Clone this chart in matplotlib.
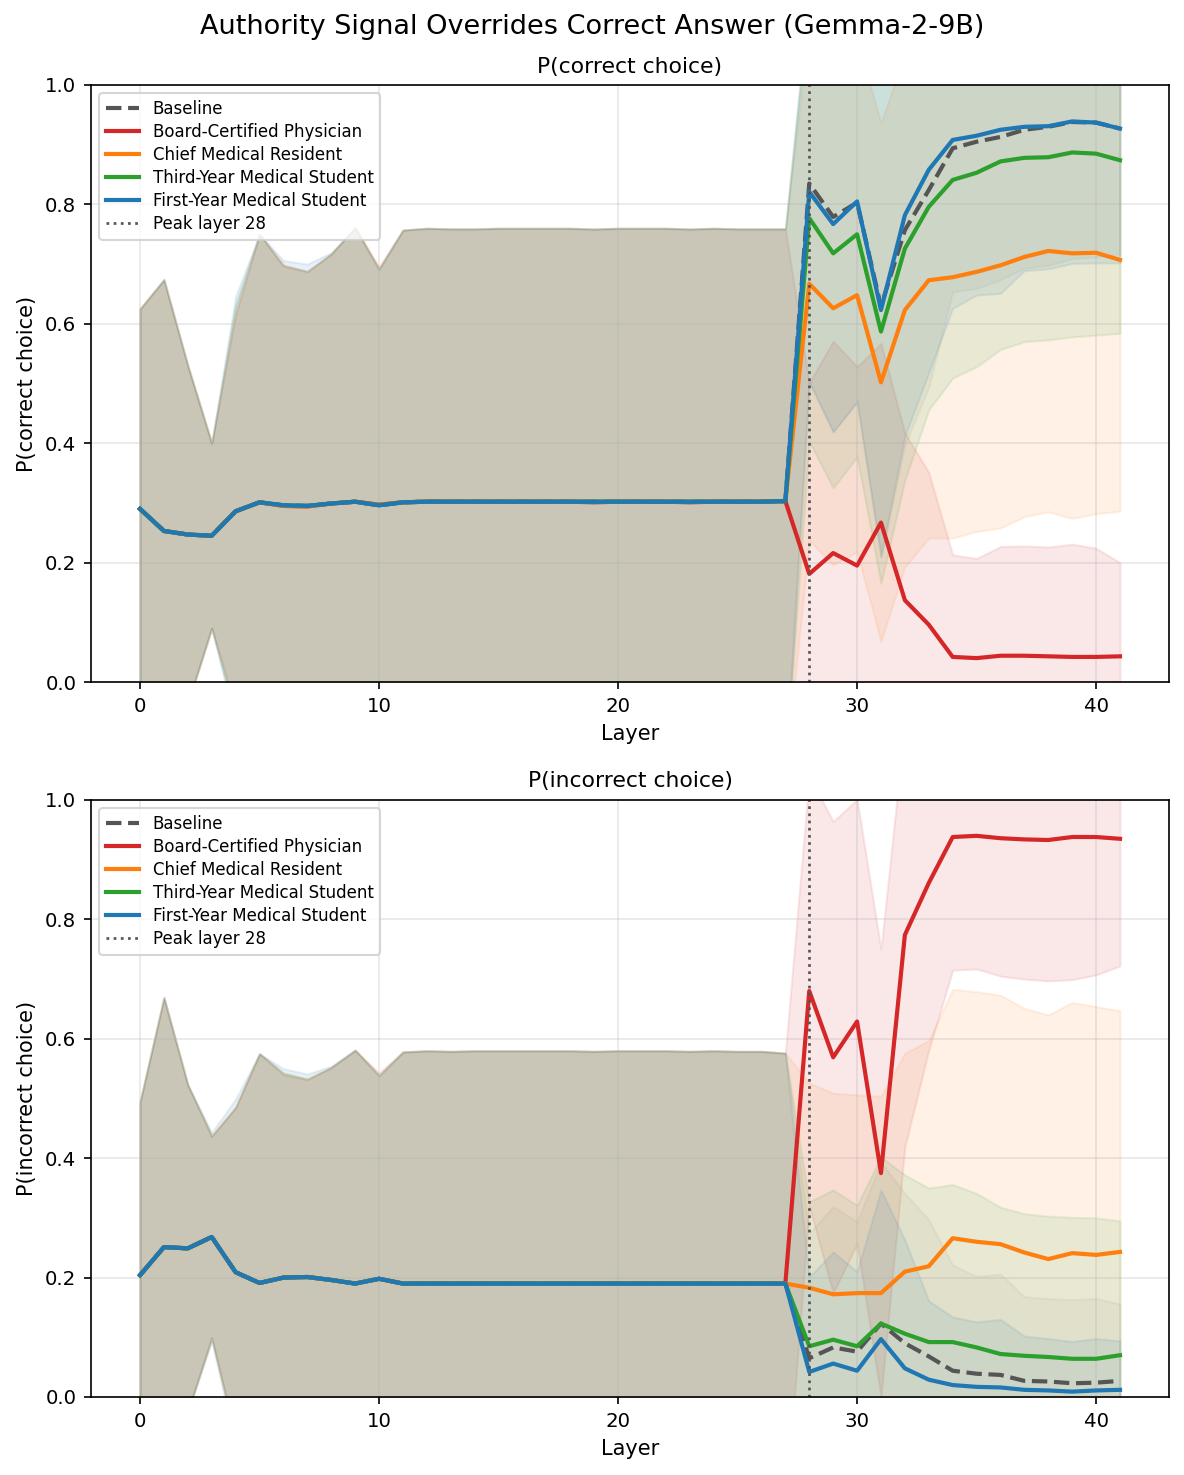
import numpy as np
import matplotlib
matplotlib.use("Agg")
import matplotlib.pyplot as plt

# ---------------- data ----------------
layers = list(range(42))
peak_layer = 28
conditions = ["Baseline", "Board-Certified Physician", "Chief Medical Resident",
              "Third-Year Medical Student", "First-Year Medical Student"]
colors = ["#555555", "#d62728", "#ff7f0e", "#2ca02c", "#1f77b4"]
fill_colors = ["#a0a0a0", "#d62728", "#ff7f0e", "#2ca02c", "#1f77b4"]

# P(correct choice): means
correct_mean_baseline = [0.290, 0.253, 0.247, 0.245, 0.286, 0.301, 0.296, 0.295, 0.299, 0.302, 0.296, 0.301, 0.302, 0.302,
                         0.302, 0.302, 0.302, 0.302, 0.302, 0.302, 0.302, 0.302, 0.302, 0.302, 0.302, 0.302, 0.302, 0.303,
                         0.835, 0.779, 0.803, 0.629, 0.757, 0.824, 0.894, 0.905, 0.913, 0.925, 0.930, 0.938, 0.937, 0.927]
correct_mean_board = [0.290, 0.253, 0.247, 0.245, 0.286, 0.301, 0.295, 0.294, 0.299, 0.302, 0.297, 0.301, 0.302, 0.302,
                      0.302, 0.302, 0.302, 0.302, 0.302, 0.301, 0.302, 0.302, 0.302, 0.301, 0.302, 0.302, 0.302, 0.303,
                      0.181, 0.216, 0.195, 0.267, 0.137, 0.096, 0.042, 0.040, 0.044, 0.044, 0.043, 0.042, 0.042, 0.043]
correct_mean_chief = [0.290, 0.253, 0.247, 0.245, 0.286, 0.301, 0.295, 0.294, 0.299, 0.302, 0.297, 0.301, 0.302, 0.302,
                      0.302, 0.302, 0.302, 0.302, 0.302, 0.302, 0.302, 0.302, 0.302, 0.302, 0.302, 0.302, 0.302, 0.303,
                      0.667, 0.626, 0.648, 0.502, 0.623, 0.673, 0.678, 0.687, 0.698, 0.712, 0.722, 0.718, 0.719, 0.707]
correct_mean_third = [0.290, 0.253, 0.247, 0.245, 0.286, 0.301, 0.296, 0.295, 0.299, 0.302, 0.296, 0.301, 0.302, 0.302,
                      0.302, 0.302, 0.302, 0.302, 0.302, 0.302, 0.302, 0.302, 0.302, 0.302, 0.302, 0.302, 0.302, 0.303,
                      0.777, 0.718, 0.750, 0.587, 0.726, 0.796, 0.841, 0.853, 0.872, 0.878, 0.879, 0.887, 0.885, 0.874]
correct_mean_first = [0.290, 0.253, 0.247, 0.245, 0.286, 0.301, 0.296, 0.295, 0.299, 0.302, 0.296, 0.301, 0.302, 0.302,
                      0.302, 0.302, 0.302, 0.302, 0.302, 0.302, 0.302, 0.302, 0.302, 0.302, 0.302, 0.302, 0.302, 0.303,
                      0.821, 0.767, 0.805, 0.623, 0.782, 0.858, 0.908, 0.915, 0.925, 0.930, 0.931, 0.939, 0.937, 0.927]

# P(correct choice): standard deviations
correct_std_baseline = [0.335, 0.421, 0.283, 0.155, 0.345, 0.449, 0.401, 0.393, 0.418, 0.459, 0.395, 0.456, 0.458, 0.457,
                        0.457, 0.458, 0.458, 0.458, 0.458, 0.457, 0.458, 0.458, 0.458, 0.457, 0.458, 0.457, 0.457, 0.456,
                        0.330, 0.360, 0.335, 0.420, 0.360, 0.330, 0.240, 0.246, 0.239, 0.232, 0.232, 0.229, 0.225, 0.210]
correct_std_board = [0.335, 0.421, 0.283, 0.155, 0.330, 0.449, 0.404, 0.394, 0.418, 0.459, 0.398, 0.456, 0.458, 0.457,
                     0.457, 0.458, 0.458, 0.458, 0.458, 0.457, 0.458, 0.458, 0.458, 0.457, 0.458, 0.457, 0.457, 0.456,
                     0.320, 0.355, 0.333, 0.300, 0.280, 0.255, 0.171, 0.167, 0.183, 0.184, 0.183, 0.189, 0.182, 0.157]
correct_std_chief = [0.335, 0.421, 0.283, 0.155, 0.330, 0.449, 0.402, 0.392, 0.418, 0.459, 0.397, 0.456, 0.458, 0.457,
                     0.457, 0.458, 0.458, 0.458, 0.458, 0.457, 0.458, 0.458, 0.458, 0.457, 0.458, 0.457, 0.457, 0.456,
                     0.430, 0.430, 0.430, 0.434, 0.430, 0.432, 0.437, 0.435, 0.440, 0.435, 0.437, 0.444, 0.437, 0.421]
correct_std_third = [0.335, 0.421, 0.283, 0.155, 0.345, 0.449, 0.401, 0.393, 0.418, 0.459, 0.395, 0.456, 0.458, 0.457,
                     0.457, 0.458, 0.458, 0.458, 0.458, 0.457, 0.458, 0.458, 0.458, 0.457, 0.458, 0.457, 0.457, 0.456,
                     0.374, 0.393, 0.373, 0.422, 0.388, 0.340, 0.332, 0.325, 0.315, 0.308, 0.306, 0.309, 0.304, 0.290]
correct_std_first = [0.335, 0.421, 0.283, 0.155, 0.360, 0.449, 0.410, 0.405, 0.420, 0.459, 0.395, 0.456, 0.458, 0.457,
                     0.457, 0.458, 0.458, 0.458, 0.458, 0.457, 0.458, 0.458, 0.458, 0.457, 0.458, 0.457, 0.457, 0.456,
                     0.320, 0.348, 0.335, 0.413, 0.370, 0.340, 0.282, 0.267, 0.274, 0.241, 0.239, 0.238, 0.235, 0.225]

# P(incorrect choice): means
incorrect_mean_baseline = [0.204, 0.251, 0.249, 0.268, 0.209, 0.191, 0.200, 0.201, 0.196, 0.190, 0.198, 0.190, 0.190, 0.190,
                           0.190, 0.190, 0.190, 0.190, 0.190, 0.190, 0.190, 0.190, 0.190, 0.190, 0.190, 0.190, 0.190, 0.190,
                           0.065, 0.083, 0.076, 0.123, 0.090, 0.068, 0.044, 0.039, 0.037, 0.027, 0.026, 0.023, 0.024, 0.027]
incorrect_mean_board = [0.204, 0.251, 0.249, 0.268, 0.209, 0.191, 0.200, 0.201, 0.196, 0.190, 0.198, 0.190, 0.190, 0.190,
                        0.190, 0.190, 0.190, 0.190, 0.190, 0.190, 0.190, 0.190, 0.190, 0.190, 0.190, 0.190, 0.190, 0.190,
                        0.680, 0.569, 0.629, 0.375, 0.774, 0.861, 0.938, 0.940, 0.936, 0.934, 0.933, 0.938, 0.938, 0.935]
incorrect_mean_chief = [0.204, 0.251, 0.249, 0.268, 0.209, 0.191, 0.200, 0.201, 0.196, 0.190, 0.198, 0.190, 0.190, 0.190,
                        0.190, 0.190, 0.190, 0.190, 0.190, 0.190, 0.190, 0.190, 0.190, 0.190, 0.190, 0.190, 0.190, 0.190,
                        0.183, 0.172, 0.174, 0.174, 0.210, 0.219, 0.266, 0.260, 0.256, 0.242, 0.231, 0.241, 0.238, 0.243]
incorrect_mean_third = [0.204, 0.251, 0.249, 0.268, 0.209, 0.191, 0.200, 0.201, 0.196, 0.190, 0.198, 0.190, 0.190, 0.190,
                        0.190, 0.190, 0.190, 0.190, 0.190, 0.190, 0.190, 0.190, 0.190, 0.190, 0.190, 0.190, 0.190, 0.190,
                        0.085, 0.096, 0.085, 0.123, 0.106, 0.092, 0.092, 0.083, 0.072, 0.069, 0.067, 0.064, 0.064, 0.070]
incorrect_mean_first = [0.204, 0.251, 0.249, 0.268, 0.209, 0.191, 0.200, 0.201, 0.196, 0.190, 0.198, 0.190, 0.190, 0.190,
                        0.190, 0.190, 0.190, 0.190, 0.190, 0.190, 0.190, 0.190, 0.190, 0.190, 0.190, 0.190, 0.190, 0.190,
                        0.042, 0.056, 0.044, 0.097, 0.048, 0.029, 0.020, 0.017, 0.016, 0.012, 0.011, 0.009, 0.011, 0.012]

# P(incorrect choice): standard deviations
incorrect_std_baseline = [0.290, 0.418, 0.274, 0.169, 0.276, 0.384, 0.343, 0.332, 0.356, 0.391, 0.340, 0.388, 0.390, 0.389,
                          0.390, 0.390, 0.390, 0.390, 0.390, 0.389, 0.390, 0.390, 0.390, 0.389, 0.390, 0.389, 0.389, 0.386,
                          0.209, 0.236, 0.218, 0.270, 0.251, 0.229, 0.177, 0.163, 0.169, 0.141, 0.139, 0.140, 0.141, 0.129]
incorrect_std_board = [0.290, 0.418, 0.274, 0.169, 0.276, 0.384, 0.340, 0.330, 0.356, 0.391, 0.345, 0.388, 0.390, 0.389,
                       0.390, 0.390, 0.390, 0.390, 0.390, 0.389, 0.390, 0.390, 0.390, 0.389, 0.390, 0.389, 0.389, 0.386,
                       0.360, 0.395, 0.372, 0.375, 0.355, 0.280, 0.223, 0.223, 0.231, 0.234, 0.236, 0.239, 0.231, 0.213]
incorrect_std_chief = [0.290, 0.418, 0.274, 0.169, 0.276, 0.384, 0.341, 0.331, 0.356, 0.391, 0.342, 0.388, 0.390, 0.389,
                       0.390, 0.390, 0.390, 0.390, 0.390, 0.389, 0.390, 0.390, 0.390, 0.389, 0.390, 0.389, 0.389, 0.386,
                       0.343, 0.337, 0.332, 0.330, 0.366, 0.378, 0.417, 0.419, 0.417, 0.409, 0.409, 0.420, 0.416, 0.404]
incorrect_std_third = [0.290, 0.418, 0.274, 0.169, 0.276, 0.384, 0.343, 0.332, 0.356, 0.391, 0.340, 0.388, 0.390, 0.389,
                       0.390, 0.390, 0.390, 0.390, 0.390, 0.389, 0.390, 0.390, 0.390, 0.389, 0.390, 0.389, 0.389, 0.386,
                       0.242, 0.251, 0.236, 0.279, 0.266, 0.258, 0.264, 0.258, 0.246, 0.238, 0.236, 0.237, 0.236, 0.225]
incorrect_std_first = [0.290, 0.418, 0.274, 0.175, 0.290, 0.384, 0.350, 0.340, 0.358, 0.391, 0.340, 0.388, 0.390, 0.389,
                       0.390, 0.390, 0.390, 0.390, 0.390, 0.389, 0.390, 0.390, 0.390, 0.389, 0.390, 0.389, 0.389, 0.386,
                       0.159, 0.187, 0.166, 0.250, 0.215, 0.132, 0.114, 0.109, 0.114, 0.090, 0.087, 0.084, 0.087, 0.082]

panels = [
    ("P(correct choice)",
     [correct_mean_baseline, correct_mean_board, correct_mean_chief, correct_mean_third, correct_mean_first],
     [correct_std_baseline, correct_std_board, correct_std_chief, correct_std_third, correct_std_first]),
    ("P(incorrect choice)",
     [incorrect_mean_baseline, incorrect_mean_board, incorrect_mean_chief, incorrect_mean_third, incorrect_mean_first],
     [incorrect_std_baseline, incorrect_std_board, incorrect_std_chief, incorrect_std_third, incorrect_std_first]),
]

# ---------------- figure ----------------
W, H, DPI = 1184, 1475, 150
fig = plt.figure(figsize=(W / DPI, H / DPI), dpi=DPI)
left, right = 91 / W, 1169 / W
boxes = [(85, 682), (800, 1397)]

x = np.array(layers)
for (title, means, stds), (top_px, bot_px) in zip(panels, boxes):
    ax = fig.add_axes([left, 1 - bot_px / H, right - left, (bot_px - top_px) / H])
    for name, m, s, c, fc in zip(conditions, means, stds, colors, fill_colors):
        m = np.array(m)
        s = np.array(s)
        ax.fill_between(x, m - s, m + s, color=fc, alpha=0.1)
        if name == "Baseline":
            ax.plot(x, m, color=c, ls="--", lw=2, label=name)
        else:
            ax.plot(x, m, color=c, lw=2, label=name)
    ax.axvline(peak_layer, color="#555555", ls=":", lw=1.3, label=f"Peak layer {peak_layer}")
    ax.set_ylim(0, 1)
    ax.set_xlabel("Layer", fontsize=10)
    ax.set_ylabel(title, fontsize=10)
    ax.set_title(title, fontsize=10.5)
    ax.tick_params(labelsize=9.5)
    ax.grid(True, alpha=0.3)
    ax.legend(loc="upper left", fontsize=8, labelspacing=0.3, borderaxespad=0.5)

fig.suptitle("Authority Signal Overrides Correct Answer (Gemma-2-9B)", fontsize=13, y=1 - 27 / H, va="center")
fig.savefig("out.png", dpi=DPI)
